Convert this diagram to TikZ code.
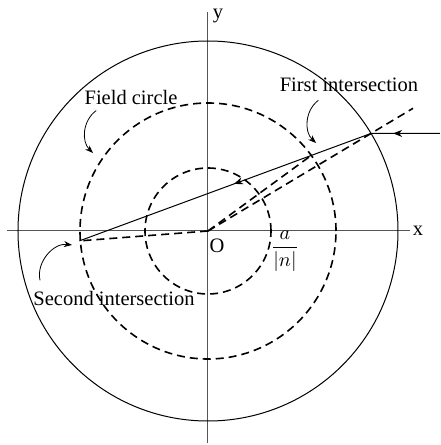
\documentclass[tikz,border=0pt]{standalone}
\usepackage{amsmath}
\usepackage{fontspec}
\setmainfont{Liberation Serif}
\usetikzlibrary{arrows.meta, calc, decorations.markings}
\definecolor{axisgray}{HTML}{555555}

\begin{document}
\begin{tikzpicture}[x=0.5pt, y=0.5pt,
    dashline/.style={line width=0.8pt, dash pattern=on 4pt off 2.5pt},
    lbl/.style={font=\fontsize{10.25}{12}\selectfont, inner sep=0pt},
    pointer/.style={-{Stealth[length=4pt, width=3pt]}, line width=0.4pt},
    midarrow/.style={postaction={decorate}, decoration={markings,
      mark=at position #1 with {\arrow{Stealth[length=4.5pt, width=3.5pt]}}}}]
    \useasboundingbox (-208,-214) rectangle (232,231);
    \coordinate (O) at (0,0);
    \draw[axisgray, line width=0.5pt] (-201,0) -- (202,0);
    \draw[axisgray, line width=0.5pt] (0,-212) -- (0,219);
    \node[lbl] (xl) at (210,0) {x};
    \node[lbl] (yl) at (10,215) {y};
    \draw[line width=0.5pt] (O) circle (190);
    \foreach \r in {63, 128} {
      \draw[dashline] (O) circle (\r);
    }
    \coordinate (P) at (30.9:190);
    \coordinate (far) at (30.9:239);
    \coordinate (Q) at (184.4:129);
    \coordinate (R) at ($(P)!0.205!(Q)$);
    \coordinate (in) at (232,97.6);
    \draw[dashline] (O) -- (far);
    \draw[dashline] (O) -- (R);
    \draw[dashline] (O) -- (Q);
    \draw[line width=0.5pt, midarrow=0.47] (P) -- (Q);
    \draw[line width=0.5pt, midarrow=0.68] (in) -- (P);
    \node[lbl] (fc) at (-77,134) {Field circle};
    \node[lbl] (fi) at (141,146) {First intersection};
    \node[lbl] (si) at (-94,-67) {Second intersection};
    \node[lbl] (ol) at (9,-15) {O};
    \node[lbl] (frac) at (77,-20) {$\displaystyle\frac{a}{|n|}$};
    \coordinate (fcTip) at (-115,78);
    \coordinate (fiTip) at (108,88);
    \coordinate (siTip) at (-136,-14);
    \draw[pointer] ($(fc.south west)+(12,-6)$) to[bend right=50] (fcTip);
    \draw[pointer] ($(fi.south west)+(39,-8)$) to[bend right=50] (fiTip);
    \draw[pointer] ($(si.north west)+(7,10)$) to[bend left=55] (siTip);
  \end{tikzpicture}
\end{document}
